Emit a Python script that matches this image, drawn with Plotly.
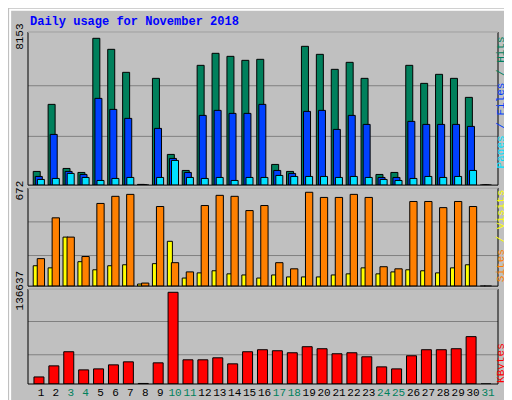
import plotly.graph_objects as go

days = list(range(1, 32))
weekend = {3, 4, 10, 11, 17, 18, 24, 25, 31}
hits = [760,4484,926,704,8153,7541,6263,40,5929,1705,815,6652,7319,7152,6930,6986,1149,760,7708,7263,6430,6819,5929,593,704,6652,5651,6152,5929,4873,0]
files = [482,2816,760,593,4818,4206,3706,20,3150,1482,704,3873,4151,3984,3984,4484,815,649,4095,4151,3094,3873,3372,426,426,3539,3372,3372,3372,3261,0]
pages = [315,371,649,426,259,371,426,10,426,1371,426,371,426,259,426,426,537,482,482,482,426,482,426,315,259,371,482,426,482,815,0]
visits = [146,131,351,175,117,146,153,15,161,321,58,95,110,88,80,58,80,66,66,66,80,88,131,88,102,117,110,95,131,153,0]
sites = [197,489,351,212,592,643,657,22,570,168,102,577,650,643,541,577,168,124,672,635,635,657,635,139,124,606,606,562,606,570,0]
kbytes = [10511,27027,48049,21021,22523,28529,33033,800,31532,136637,36036,36036,39039,30030,48049,51051,49549,46546,55555,52553,45045,46546,40540,25525,22523,42042,51051,51051,52553,70571,0]

BG = "#C0C0C0"
LN = dict(color="black", width=1)
fig = go.Figure()
def bar(y, color, yax, off, w):
    fig.add_trace(go.Bar(x=days, y=y, yaxis=yax, marker=dict(color=color, line=LN),
                         offset=off, width=w, showlegend=False, hoverinfo="skip"))
bar(hits, "#00805C", "y", -0.52, 0.47)
bar(files, "#0040FF", "y", -0.38, 0.47)
bar(pages, "#00E0FF", "y", -0.24, 0.47)
bar(visits, "#FFFF00", "y2", -0.52, 0.34)
bar(sites, "#FF8000", "y2", -0.25, 0.49)
bar(kbytes, "#FF0000", "y3", -0.47, 0.67)

tick = []
for d in days:
    c = "#00805C" if d in weekend else "black"
    tick.append(f'<span style="color:{c}">{d}</span>')

mono = "Liberation Mono, DejaVu Sans Mono, monospace"
def yax(dom, rng, top):
    return dict(domain=dom, range=[0, rng], showgrid=False, zeroline=False,
                tickvals=[top], ticktext=[str(top)], tickangle=-90, ticks="",
                ticklabelstandoff=2,
                tickfont=dict(size=11, color="black", family=mono), fixedrange=True)

fig.update_layout(
    width=512, height=400, barmode="overlay",
    paper_bgcolor=BG, plot_bgcolor=BG,
    margin=dict(l=20, r=22, t=24, b=24, autoexpand=False),
    font=dict(family=mono),
    xaxis=dict(range=[0.13, 31.67], tickvals=days, ticktext=tick, showgrid=False,
               zeroline=False, ticks="", tickangle=0, tickfont=dict(size=11, family=mono),
               anchor="y3"),
    yaxis=yax([0.565, 1.0], 8503, 8153),
    yaxis2=yax([0.278, 0.557], 703, 672),
    yaxis3=yax([0.0, 0.270], 141592, 136637),
)
fig.add_annotation(text="<b>Daily usage for November 2018</b>", xref="paper", yref="paper",
                   x=0, y=1.0, yshift=10, xanchor="left", yanchor="middle", showarrow=False,
                   font=dict(size=12, color="#0000FF", family=mono))
def side(text, y0):
    fig.add_annotation(text=text, xref="paper", yref="paper", x=1.0, xshift=11, y=y0,
                       textangle=-90, showarrow=False, yanchor="middle",
                       font=dict(size=11, family=mono))
side('<span style="color:#00E0FF">Pages</span><span style="color:#0040FF"> / Files </span><span style="color:#00805C">/ Hits</span>', 0.80)
side('<span style="color:#FF8000">Sites</span><span style="color:#FFFF00"> / Visits</span>', 0.42)
side('<span style="color:#FF0000">KBytes</span>', 0.06)

for yr, vals in (("y", [2707, 5519]), ("y2", [219, 460]), ("y3", [43541, 93095])):
    for v in vals:
        fig.add_shape(type="line", xref="x domain", yref=yr, x0=0, x1=1, y0=v, y1=v,
                      line=dict(color="#808080", width=1), layer="below")
for dom in ([0.565, 1.0], [0.278, 0.557], [0.0, 0.270]):
    fig.add_shape(type="rect", xref="paper", yref="paper", x0=0, x1=1, y0=dom[0], y1=dom[1],
                  line=dict(color="black", width=1))
    fig.add_shape(type="line", xref="paper", yref="paper", x0=0, x1=1, y0=dom[1], y1=dom[1],
                  line=dict(color="white", width=1))
fig.add_shape(type="rect", xref="paper", yref="paper", x0=-0.038, x1=1.039, y0=-0.063, y1=1.063,
              line=dict(color="white", width=2))
fig.add_shape(type="line", xref="paper", yref="paper", x0=-0.038, x1=1.039, y0=-0.063, y1=-0.063,
              line=dict(color="#606060", width=3))
fig.add_shape(type="line", xref="paper", yref="paper", x0=1.039, x1=1.039, y0=-0.063, y1=1.063,
              line=dict(color="#606060", width=3))
fig.write_html("out.html")
